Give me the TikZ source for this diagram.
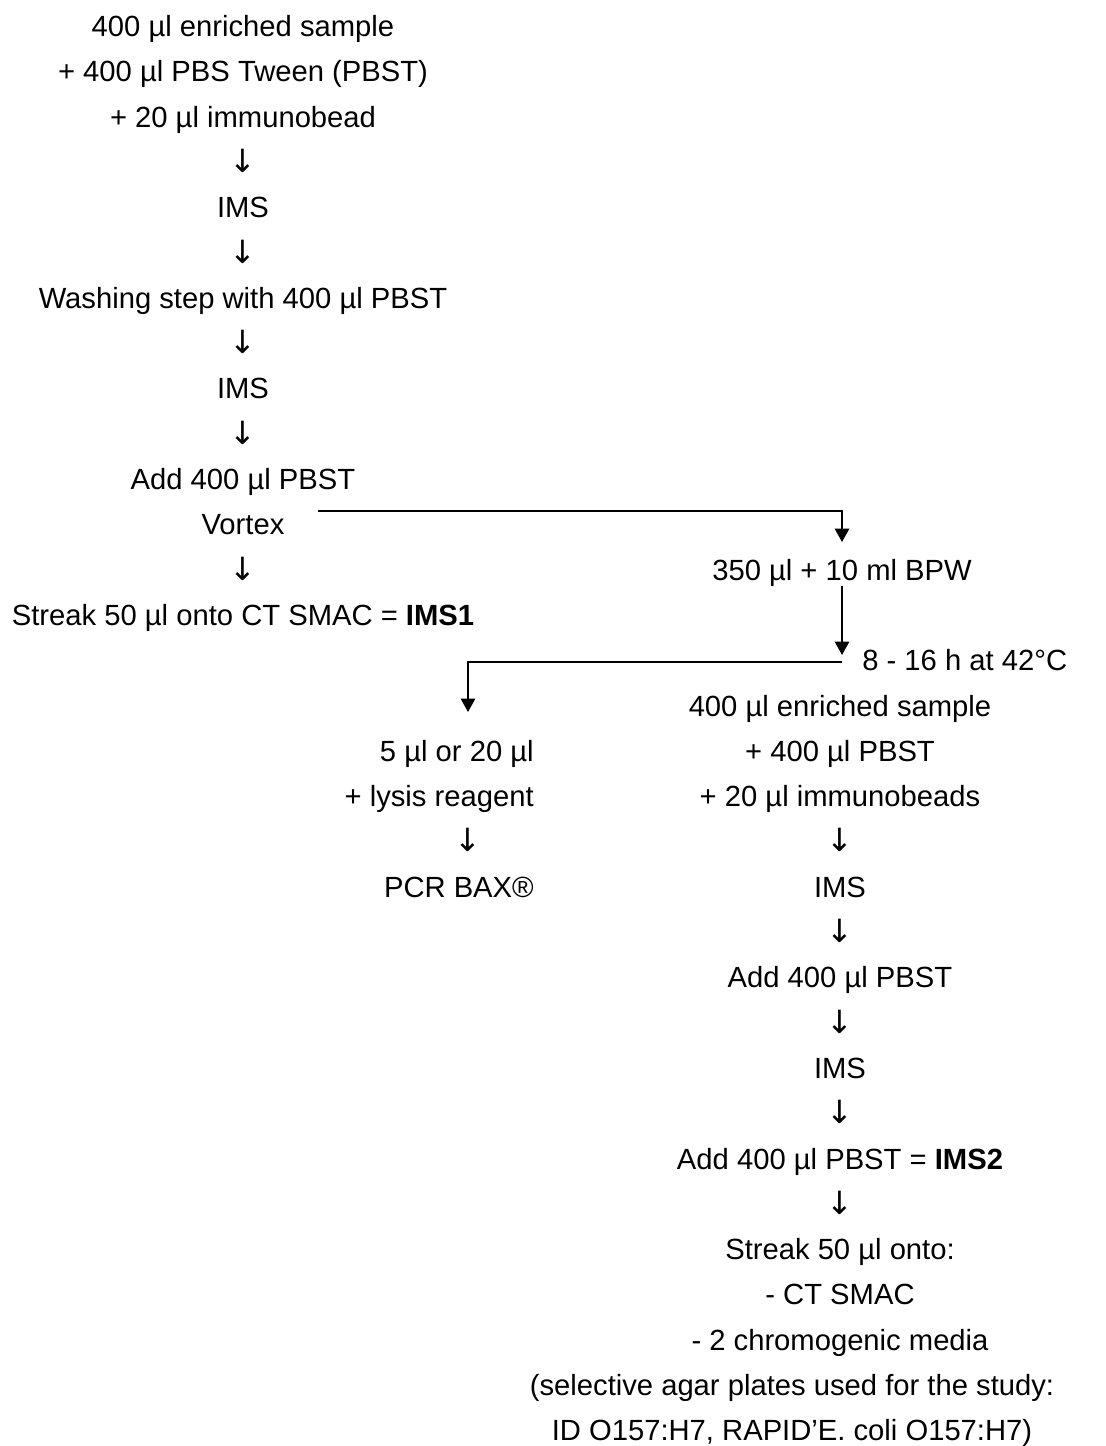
\documentclass[tikz,border=0pt]{standalone}
\usepackage{fontspec}
\setmainfont{Liberation Sans}
\newfontfamily\arrowfont{DejaVu Sans}
\newcommand{\dn}{{\arrowfont\fontsize{24}{26}\selectfont ↓}}
\usetikzlibrary{arrows.meta}

\tikzset{
  txt/.style={anchor=base,inner sep=0pt,font=\fontsize{21.9}{26}\selectfont},
  link/.style={line width=1.4pt,-{Triangle[length=10pt,width=10.7pt]}},
}

\begin{document}
\begin{tikzpicture}[x=0.75pt,y=-0.75pt]
\useasboundingbox (0,0) rectangle (1106,1446);
% left branch
\foreach \t [count=\i from 0] in {400 µl enriched sample,+ 400 µl PBS Tween (PBST),+ 20 µl immunobead,\dn,IMS,\dn,Washing step with 400 µl PBST,\dn,IMS,\dn,Add 400 µl PBST,Vortex,\dn,Streak 50 µl onto CT SMAC = \textbf{IMS1}}
  \node[txt] (l\i) at (243,{36.5+45.3*\i}) {\t};
% right branch
\node[txt] (r12) at (842,{36.5+45.3*12}) {350 µl + 10 ml BPW};
\node[txt,anchor=base west] (r14) at (862,{36.5+45.3*14}) {8 - 16 h at 42°C};
\foreach \i/\t in {15/400 µl enriched sample,16/+ 400 µl PBST,17/+ 20 µl immunobeads,18/\dn,19/IMS,20/\dn,21/Add 400 µl PBST,22/\dn,23/IMS,24/\dn,25/Add 400 µl PBST = \textbf{IMS2},26/\dn,27/Streak 50 µl onto:,28/- CT SMAC,29/- 2 chromogenic media}
  \node[txt] (r\i) at (840,{36.5+45.3*\i}) {\t};
\node[txt] (r30) at (792,{36.5+45.3*30}) {(selective agar plates used for the study:};
\node[txt] (r31) at (792,{36.5+45.3*31}) {ID O157:H7, RAPID’E. coli O157:H7)};
% middle branch
\foreach \i/\t in {16/5 µl or 20 µl,17/+ lysis reagent,19/PCR BAX®}
  \node[txt,anchor=base east] (m\i) at (534,{36.5+45.3*\i}) {\t};
\node[txt] (m18) at (468,{36.5+45.3*18}) {\dn};
% connectors
\coordinate (split1) at (318,511);
\coordinate (split2) at (842,662);
\coordinate (lysis) at (468,712);
\draw[link] (split1) -| ([yshift=12.5pt]r12.north);
\draw[link,shorten >=5.25pt] (r12.south) -- (split2);
\draw[link] (split2) -| (lysis);
\end{tikzpicture}
\end{document}
